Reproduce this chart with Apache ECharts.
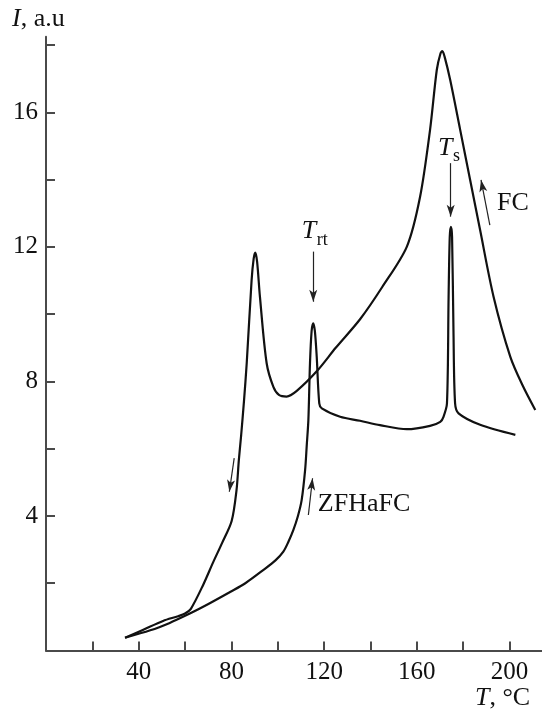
<!DOCTYPE html>
<html>
<head>
<meta charset="utf-8">
<script src="https://cdn.jsdelivr.net/npm/echarts@6/dist/echarts.min.js"></script>
<style>
  html, body { margin: 0; padding: 0; background: #fff; }
  #chart { width: 542px; height: 713px; }
</style>
</head>
<body>
<div id="chart"></div>
<script>
// Intensity I (a.u.) versus temperature T (°C)
// Field-cooled run
const fcCurve = [
  [34.1, 0.38], [42, 0.62], [50.5, 0.88], [57, 1.02], [60, 1.1], [62.5, 1.24],
  [67.8, 1.95], [72.1, 2.62], [76, 3.2], [80.1, 3.85], [82.2, 4.77], [83.2, 5.66],
  [84.2, 6.4], [85.4, 7.4], [86.6, 8.54], [88.7, 11.0], [89.6, 11.65], [90.3, 11.83],
  [91.1, 11.55], [92.3, 10.52], [95.2, 8.54], [98.1, 7.84], [100.5, 7.6], [103.8, 7.55],
  [108.2, 7.72], [116.8, 8.3], [125, 9.0], [135.5, 9.85], [145, 10.8], [155.7, 12.01],
  [161.4, 13.49], [165.7, 15.48], [168.6, 17.26], [170.2, 17.75], [171.0, 17.82],
  [172.0, 17.65], [174.4, 16.96], [178.7, 15.48], [183.0, 13.99], [187.3, 12.5],
  [193.1, 10.52], [200.3, 8.74], [205.5, 7.9], [211.1, 7.15]
];
// Zero-field heating after field cooling
const zfhafcCurve = [
  [34.1, 0.38], [45, 0.6], [53.4, 0.82], [60, 1.03], [67.8, 1.3], [79.4, 1.74],
  [86, 2.0], [93.7, 2.39], [99, 2.68], [102.4, 2.94], [104.5, 3.22], [106.7, 3.58],
  [108.7, 4.0], [110.3, 4.47], [111.8, 5.37], [112.5, 6.1], [113.2, 6.85], [113.9, 8.54],
  [114.6, 9.5], [115.3, 9.73], [116.0, 9.5], [116.8, 8.74], [117.9, 7.35], [119, 7.2],
  [126.9, 6.95], [135.5, 6.83], [144.1, 6.7], [155.7, 6.58], [165.7, 6.68], [170.1, 6.8],
  [171.5, 6.95], [173, 7.35], [173.7, 10.52], [174.2, 12.3], [174.7, 12.6], [175.2, 12.3],
  [175.8, 9.53], [176.5, 7.35], [178, 7.05], [187.3, 6.71], [202.5, 6.41]
];

const xTickValues = [20, 40, 60, 80, 100, 120, 140, 160, 180, 200];
const xLabelValues = [40, 80, 120, 160, 200];
const yTickValues = [2, 4, 6, 8, 10, 12, 14, 16, 18];
const yLabelValues = [4, 8, 12, 16];

// Arrows marking transitions and sweep directions: [from, to] in (T, I)
const arrowSegments = [
  [[115.3, 11.86], [115.3, 10.37]],   // T_rt
  [[174.6, 14.49], [174.6, 12.9]],    // T_s
  [[191.5, 12.65], [187.7, 13.99]],   // FC direction
  [[113.2, 4.03], [115.0, 5.12]],     // ZFHaFC direction
  [[81.2, 5.72], [79.1, 4.72]]        // cooling branch direction
];

const serif = '"Liberation Serif", "DejaVu Serif", "Times New Roman", serif';
const ink = '#111';
const axisGrey = '#4a4a4a';

const chart = echarts.init(document.getElementById('chart'), null, { renderer: 'canvas' });

chart.setOption({
  animation: false,
  grid: { left: 46, right: 0, top: 36.7, bottom: 62.5, containLabel: false, outerBoundsMode: 'none' },
  xAxis: {
    type: 'value', min: 0, max: 214, interval: 20,
    axisLine: { lineStyle: { color: axisGrey, width: 2 } },
    axisTick: { inside: true, length: 9, customValues: xTickValues, lineStyle: { color: axisGrey, width: 2 } },
    axisLabel: { customValues: xLabelValues, margin: 9, fontFamily: serif, fontSize: 25, color: ink },
    splitLine: { show: false }
  },
  yAxis: {
    type: 'value', min: 0, max: 18.25, interval: 2,
    axisLine: { lineStyle: { color: axisGrey, width: 2 } },
    axisTick: { inside: true, length: 9, customValues: yTickValues, lineStyle: { color: axisGrey, width: 2 } },
    axisLabel: { customValues: yLabelValues, margin: 8, fontFamily: serif, fontSize: 25, color: ink },
    splitLine: { show: false }
  },
  series: [
    {
      name: 'FC', type: 'line', data: fcCurve, showSymbol: false,
      smooth: 0.3,
      lineStyle: { color: ink, width: 2.2 }
    },
    {
      name: 'ZFHaFC', type: 'line', data: zfhafcCurve, showSymbol: false,
      smooth: 0.3,
      lineStyle: { color: ink, width: 2.2 }
    },
    {
      name: 'arrows', type: 'line', data: [],
      markLine: {
        silent: true, animation: false,
        symbol: ['none', 'arrow'], symbolSize: [6, 12],
        lineStyle: { type: 'solid', color: '#222', width: 1.2 },
        label: { show: false },
        emphasis: { disabled: true },
        data: arrowSegments.map(s => [{ coord: s[0] }, { coord: s[1] }])
      }
    }
  ]
});

// Text annotations anchored in data coordinates (left edge, baseline)
const annotations = [
  { at: [110.3, 12.21], text: 'T', size: 26, italic: true },
  { at: [116.8, 12.03], text: 'rt', size: 18 },
  { at: [169.1, 14.67], text: 'T', size: 26, italic: true },
  { at: [175.6, 14.53], text: 's', size: 18 },
  { at: [194.6, 13.04], text: 'FC', size: 26 },
  { at: [117.3, 4.09], text: 'ZFHaFC', size: 26 }
];

function textAt(x, baseline, size, content, rich) {
  return {
    type: 'text', silent: true, z: 100,
    style: {
      x: x, y: baseline - 0.33 * size,
      text: content, fill: ink,
      font: size + 'px ' + serif,
      align: 'left', verticalAlign: 'middle',
      rich: rich
    }
  };
}

const graphics = annotations.map(a => {
  const p = chart.convertToPixel({ gridIndex: 0 }, a.at);
  const g = textAt(p[0], p[1], a.size, a.text);
  if (a.italic) g.style.font = 'italic ' + a.size + 'px ' + serif;
  return g;
});

const richParts = {
  it: { fontFamily: serif, fontSize: 26, fontStyle: 'italic', fill: ink, color: ink },
  rm: { fontFamily: serif, fontSize: 26, fill: ink, color: ink }
};
// Axis titles
graphics.push(textAt(12, 28, 26, '{it|I}{rm|, a.u}', richParts));
graphics.push(textAt(475, 707, 26, '{it|T}{rm|, °C}', richParts));

chart.setOption({ graphic: graphics });
</script>
</body>
</html>
